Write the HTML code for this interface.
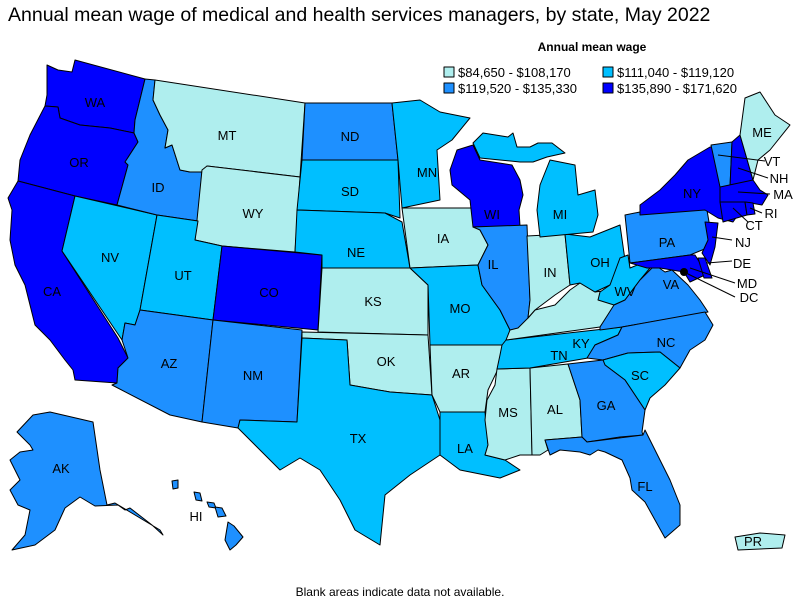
<!DOCTYPE html>
<html><head><meta charset="utf-8"><style>
html,body{margin:0;padding:0;background:#fff;}
svg{display:block;font-family:"Liberation Sans",Arial,sans-serif;}
.s{stroke:#000;stroke-width:1;stroke-linejoin:round;}
.a{fill:#AFEEEE}.b{fill:#00BFFF}.c{fill:#1E90FF}.d{fill:#0000FF}
.l{font-size:13px;fill:#000;text-anchor:middle;}
</style></head><body>
<svg width="800" height="600" viewBox="0 0 800 600">
<text x="8" y="21" font-size="19.5" fill="#000">Annual mean wage of medical and health services managers, by state, May 2022</text>
<text x="592" y="51" font-size="12" font-weight="bold" text-anchor="middle">Annual mean wage</text>
<rect x="444" y="67" width="10" height="10" class="a s"/><text x="458" y="77" font-size="13">$84,650 - $108,170</text>
<rect x="603" y="67" width="10" height="10" class="b s"/><text x="617" y="77" font-size="13">$111,040 - $119,120</text>
<rect x="444" y="83" width="10" height="10" class="c s"/><text x="458" y="93" font-size="13">$119,520 - $135,330</text>
<rect x="603" y="83" width="10" height="10" class="d s"/><text x="617" y="93" font-size="13">$135,890 - $171,620</text>
<g class="s">
<polygon class="d" points="47,65 58,70 72,72 75,60 145,79 135,120 134,133 110,128 80,125 60,118 58,107 45,106 47,95"/>
<polygon class="d" points="45,106 58,107 60,118 80,125 110,128 134,133 138,142 125,162 128,165 117,205 75,196 18,181 20,160 30,135"/>
<polygon class="d" points="18,181 75,196 62,251 118,338 128,358 118,368 117,383 75,380 73,370 65,360 50,340 35,325 25,285 15,265 10,240 12,210 8,198"/>
<polygon class="b" points="75,196 157,215 140,310 135,325 125,323 122,340 62,251"/>
<polygon class="c" points="145,79 155,80 153,100 160,115 168,130 165,148 172,145 180,170 190,172 202,170 198,221 157,215 117,205 128,165 125,162 138,142 134,133 135,120"/>
<polygon class="a" points="155,80 305,103 300,177 207,166 205,172 190,172 180,170 172,145 165,148 168,130 160,115 153,100"/>
<polygon class="a" points="207,166 300,177 295,252 222,246 195,240 202,170"/>
<polygon class="b" points="157,215 198,221 195,240 222,246 213,320 140,310"/>
<polygon class="d" points="222,246 322,255 318,330 213,320"/>
<polygon class="c" points="140,310 213,320 202,422 170,415 112,385 117,383 118,368 128,358 122,340 125,323 135,325"/>
<polygon class="c" points="213,320 302,330 297,422 240,420 238,428 202,422"/>
<polygon class="c" points="305,103 392,103 398,160 302,160"/>
<polygon class="b" points="302,160 398,160 400,218 385,213 297,210"/>
<polygon class="b" points="297,210 385,213 402,222 410,268 322,268 322,255 295,252"/>
<polygon class="a" points="322,268 410,268 428,285 428,335 318,332"/>
<polygon class="a" points="302,332 428,335 432,395 390,392 350,385 347,340 302,338"/>
<polygon class="b" points="302,338 347,340 350,385 390,392 432,395 440,420 440,455 410,475 385,495 380,545 355,530 340,500 320,470 300,458 280,470 255,445 238,428 240,420 297,422"/>
<polygon class="b" points="392,103 420,100 440,112 470,118 452,140 437,150 440,200 402,208 398,160"/>
<polygon class="a" points="402,208 473,208 480,230 488,245 478,265 410,268"/>
<polygon class="b" points="410,268 478,265 482,285 500,310 510,330 505,345 430,345 428,285"/>
<polygon class="a" points="430,345 505,345 500,365 488,390 485,412 440,412 432,395"/>
<polygon class="b" points="440,412 485,412 488,445 485,455 505,460 520,470 500,478 460,470 440,455"/>
<polygon class="a" points="497,369 530,368 532,455 520,455 505,460 485,455 488,445 485,420 487,400 495,385"/>
<polygon class="a" points="530,368 568,364 580,400 582,437 545,440 548,450 540,455 532,455"/>
<polygon class="b" points="506,340 622,327 618,335 595,345 588,358 530,368 497,369 500,355 502,345"/>
<polygon class="a" points="510,330 528,318 535,310 555,305 570,290 580,283 595,292 610,290 615,305 600,327 506,340"/>
<polygon class="d" points="457,150 473,145 480,160 512,165 520,180 523,195 519,210 520,226 473,227 470,200 452,185 450,170"/>
<polygon class="c" points="473,227 527,225 530,300 528,318 518,328 510,330 500,310 482,285 478,265 488,245 480,230"/>
<polygon class="a" points="527,236 565,234 570,285 555,295 535,310 528,318 530,300"/>
<polygon class="b" points="565,234 590,237 620,225 625,260 610,285 595,292 580,283 570,285"/>
<polygon class="b" points="540,185 550,160 575,165 578,195 595,190 598,215 593,232 540,237 537,210"/>
<polygon class="b" points="473,143 483,133 508,137 513,133 517,147 530,147 538,143 552,143 565,153 547,157 533,162 520,162 500,160 480,158"/>
<polygon class="b" points="610,285 620,258 628,255 630,268 645,262 655,262 640,280 625,300 614,305 598,300 600,292"/>
<polygon class="c" points="600,327 614,305 625,300 640,280 655,265 665,272 672,270 688,285 700,300 708,312 622,327 600,330"/>
<polygon class="c" points="587,358 595,345 618,335 622,327 705,312 713,325 705,340 690,350 680,368 660,352 628,353 603,360"/>
<polygon class="b" points="603,360 628,353 660,352 680,368 665,385 650,398 645,410 625,380 605,365"/>
<polygon class="c" points="568,364 603,360 605,365 625,380 645,410 642,432 643,435 620,437 587,442 582,437 580,400"/>
<polygon class="c" points="545,440 582,437 587,442 643,435 645,430 660,460 670,480 680,505 680,525 665,538 655,520 645,502 632,490 630,478 622,460 605,452 598,450 590,455 580,452 560,450 550,455"/>
<polygon class="c" points="625,215 640,212 700,205 707,210 712,240 707,248 690,255 630,263"/>
<polygon class="d" points="640,205 660,190 675,175 688,160 710,147 720,147 722,187 722,205 740,212 733,222 718,218 705,210 640,215"/>
<polygon class="d" points="705,222 718,223 715,247 710,265 702,253 708,240"/>
<polygon class="d" points="630,263 690,255 695,255 700,263 705,275 690,282 684,272 672,270 660,268 647,268"/>
<polygon class="d" points="698,258 705,258 712,278 704,278"/>
<polygon class="c" points="711,145 732,142 730,187 720,187"/>
<polygon class="d" points="732,142 740,135 753,180 730,187"/>
<polygon class="d" points="720,187 753,180 760,190 768,195 762,205 745,202 720,202"/>
<polygon class="d" points="720,202 745,202 747,215 723,222"/>
<polygon class="d" points="745,202 753,203 755,214 747,215"/>
<polygon class="a" points="740,135 745,98 760,92 775,115 790,125 770,150 758,160 753,180"/>
<polygon class="c" points="17,432 33,415 50,412 93,422 100,470 107,505 115,503 130,512 160,530 163,535 152,525 130,508 125,510 118,505 95,506 80,497 65,508 55,530 35,545 12,550 25,535 30,510 18,505 10,490 20,480 10,460 20,452 33,450 30,445"/>
<polygon class="c" points="172,481 178,480 178,488 173,489"/>
<polygon class="c" points="194,492 200,493 202,501 196,500"/>
<polygon class="c" points="207,502 214,503 216,508 209,507"/>
<polygon class="c" points="215,507 222,508 226,516 218,517"/>
<polygon class="c" points="228,522 234,526 243,537 236,545 230,550 225,540"/>
<polygon class="a" points="735,537 760,533 785,535 782,548 738,550"/>
</g>
<circle cx="684" cy="272" r="4" fill="#000"/>
<g stroke="#000" stroke-width="1">
<line x1="718" y1="155" x2="765" y2="161"/><line x1="738" y1="168" x2="768" y2="178"/><line x1="738" y1="192" x2="770" y2="194"/>
<line x1="750" y1="208" x2="762" y2="213"/><line x1="733" y1="208" x2="748" y2="222"/><line x1="712" y1="237" x2="732" y2="240"/>
<line x1="707" y1="263" x2="732" y2="261"/><line x1="690" y1="268" x2="735" y2="283"/><line x1="684" y1="272" x2="735" y2="297"/>
</g>
<g class="l">
<text x="95" y="107">WA</text><text x="79" y="167">OR</text><text x="52" y="296">CA</text><text x="110" y="262">NV</text>
<text x="158" y="192">ID</text><text x="227" y="140">MT</text><text x="253" y="218">WY</text><text x="183" y="280">UT</text>
<text x="269" y="297">CO</text><text x="169" y="368">AZ</text><text x="253" y="380">NM</text><text x="350" y="141">ND</text>
<text x="350" y="196">SD</text><text x="356" y="257">NE</text><text x="373" y="306">KS</text><text x="386" y="366">OK</text>
<text x="358" y="443">TX</text><text x="427" y="177">MN</text><text x="443" y="243">IA</text><text x="460" y="313">MO</text>
<text x="461" y="378">AR</text><text x="465" y="453">LA</text><text x="508" y="417">MS</text><text x="555" y="414">AL</text>
<text x="559" y="360">TN</text><text x="581" y="348">KY</text><text x="493" y="269">IL</text><text x="550" y="277">IN</text>
<text x="600" y="267">OH</text><text x="625" y="296">WV</text><text x="671" y="289">VA</text><text x="666" y="347">NC</text>
<text x="640" y="380">SC</text><text x="606" y="410">GA</text><text x="645" y="491">FL</text><text x="492" y="219">WI</text>
<text x="560" y="219">MI</text><text x="667" y="247">PA</text><text x="692" y="198">NY</text><text x="762" y="137">ME</text>
<text x="772" y="166">VT</text><text x="779" y="183">NH</text><text x="783" y="199">MA</text><text x="771" y="218">RI</text>
<text x="754" y="230">CT</text><text x="743" y="247">NJ</text><text x="742" y="268">DE</text><text x="747" y="288">MD</text>
<text x="749" y="302">DC</text><text x="61" y="473">AK</text><text x="196" y="521">HI</text><text x="753" y="546">PR</text>
</g>
<text x="400" y="596" font-size="12" text-anchor="middle">Blank areas indicate data not available.</text>
</svg>
</body></html>
